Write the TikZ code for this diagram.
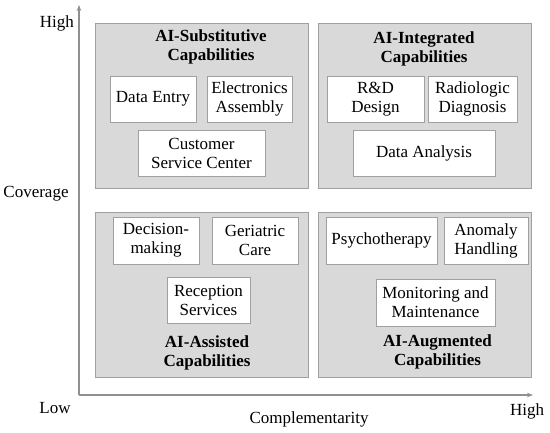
\documentclass[tikz,border=0pt]{standalone}
\usepackage{fontspec}
\setmainfont{Liberation Serif}
\usetikzlibrary{arrows.meta}
\definecolor{quadfill}{HTML}{D9D9D9}
\definecolor{quadborder}{HTML}{A0A0A0}
\definecolor{itemborder}{HTML}{A0A0A0}
\definecolor{axisgray}{HTML}{909090}
\begin{document}
\begin{tikzpicture}[x=1bp,y=-1bp,
  quad/.style={draw=quadborder, fill=quadfill, line width=1bp, inner sep=0pt},
  item/.style={draw=itemborder, fill=white, line width=1bp, inner sep=0pt, align=center, font=\fontsize{17bp}{19bp}\selectfont},
  ttl/.style={align=center, inner sep=0pt, font=\fontsize{17bp}{19bp}\selectfont\bfseries},
  lbl/.style={inner sep=0pt, font=\fontsize{17bp}{19bp}\selectfont},
  axis/.style={draw=axisgray, line width=1.2bp, -{Stealth[length=6bp,width=4.5bp]}}]
\useasboundingbox (0,0) rectangle (550,432);
% axes
\coordinate (o) at (79,395);
\coordinate (ytop) at (79,5);
\coordinate (xend) at (533,395);
\draw[axis] (o) -- (ytop);
\draw[axis] (o) -- (xend);
% quadrants
\node[quad, minimum width=213bp, minimum height=165bp] (q1) at (201.5,105.5) {};
\node[quad, minimum width=213bp, minimum height=165bp] (q2) at (424.5,105.5) {};
\node[quad, minimum width=213bp, minimum height=165bp] (q3) at (201.5,294.5) {};
\node[quad, minimum width=213bp, minimum height=165bp] (q4) at (424.5,294.5) {};
% titles
\node[ttl] (t1) at (211,47) {AI-Substitutive\\Capabilities};
\node[ttl] (t2) at (424,49) {AI-Integrated\\Capabilities};
\node[ttl] (t3) at (207,352.5) {AI-Assisted\\Capabilities};
\node[ttl] (t4) at (437.5,352) {AI-Augmented\\Capabilities};
% items
\node[item, minimum width=86bp, minimum height=46bp] (dataentry) at (153,99) {Data Entry};
\node[item, minimum width=85bp, minimum height=46bp] (electronics) at (249.5,99) {Electronics\\Assembly};
\node[item, minimum width=127bp, minimum height=46bp] (customer) at (201.5,153) {Customer\\Service Center};
\node[item, minimum width=97bp, minimum height=46bp] (rd) at (375.5,99) {R\&D\\Design};
\node[item, minimum width=89bp, minimum height=46bp] (radiologic) at (472.5,99) {Radiologic\\Diagnosis};
\node[item, minimum width=142bp, minimum height=46bp] (dataanalysis) at (424,153) {Data Analysis};
\node[item, minimum width=86bp, minimum height=47bp] (decision) at (156,240.5) {Decision-\\making};
\node[item, minimum width=86bp, minimum height=47bp] (geriatric) at (255,240.5) {Geriatric\\Care};
\node[item, minimum width=83bp, minimum height=46bp] (reception) at (208.5,300) {Reception\\Services};
\node[item, minimum width=111bp, minimum height=47bp] (psycho) at (381.5,240.5) {Psychotherapy};
\node[item, minimum width=84bp, minimum height=47bp] (anomaly) at (486,240.5) {Anomaly\\Handling};
\node[item, minimum width=119bp, minimum height=47bp] (monitoring) at (435.5,302.5) {Monitoring and\\Maintenance};
% axis labels
\node[lbl, anchor=east] (yhigh) at (74,23) {High};
\node[lbl] (coverage) at (36,194) {Coverage};
\node[lbl] (low) at (55,408) {Low};
\node[lbl] (compl) at (309,419) {Complementarity};
\node[lbl] (xhigh) at (527,411) {High};
\end{tikzpicture}
\end{document}
